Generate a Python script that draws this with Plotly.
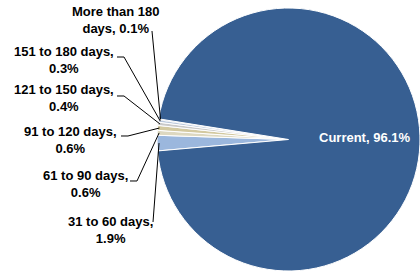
import math
import plotly.graph_objects as go

# ---- data ----
categories = ["31 to 60 days", "61 to 90 days", "91 to 120 days",
              "121 to 150 days", "151 to 180 days", "More than 180 days", "Current"]
shares = [1.9, 0.6, 0.6, 0.4, 0.3, 0.1, 96.1]
label_text = ["31 to 60 days,<br>1.9%", "61 to 90 days,<br>0.6%", "91 to 120 days,<br>0.6%",
              "121 to 150 days,<br>0.4%", "151 to 180 days,<br>0.3%", "More than 180<br>days, 0.1%",
              "Current, 96.1%"]
colors = ["#9BB7DD", "#DDD8C0", "#D3C9A0", "#C9C9C9", "#BAC8DC", "#2B5183", "#375F92"]

# ---- layout geometry (pixels) ----
W, H = 420, 274
CX, CY, R = 289, 139.5, 132
ROT = 265

# label centres (px) and leader-line start/elbow points (px)
label_pos = [(110, 230), (85, 184), (70, 140), (64, 98), (64, 60), (115, 20), (364, 137)]
leader = [[(153, 222)], [(130, 181), (137, 181)], [(121, 136), (128, 136)],
          [(117, 96), (124, 96)], [(117, 57), (124, 57)], [(152, 31)], None]

def px(x):
    return x / W

def py(y):
    return 1 - y / H

fig = go.Figure(go.Pie(
    labels=categories, values=shares, sort=False, direction="clockwise",
    rotation=ROT, marker=dict(colors=colors, line=dict(color="white", width=1)),
    textinfo="none", hoverinfo="label+percent", showlegend=False,
    domain=dict(x=[(CX - R) / W, 1.0], y=[(H - CY - R) / H, (H - CY + R) / H]),
))

total = sum(shares)
cum = 0.0
shapes = []
annotations = []
for i, v in enumerate(shares):
    mid = ROT + 360.0 * (cum + v / 2) / total
    cum += v
    a = math.radians(mid)
    ex = CX + R * 0.985 * math.sin(a)
    ey = CY - R * 0.985 * math.cos(a)
    lx, ly = label_pos[i]
    is_current = categories[i] == "Current"
    annotations.append(dict(
        x=px(lx), y=py(ly), xref="paper", yref="paper", text=label_text[i],
        showarrow=False, xanchor="center", yanchor="middle", align="center",
        font=dict(family="Arial", size=13, weight="bold",
                  color="white" if is_current else "black"),
    ))
    if leader[i]:
        pts = leader[i] + [(ex, ey)]
        path = "M " + " L ".join(f"{px(x):.5f},{py(y):.5f}" for x, y in pts)
        shapes.append(dict(type="path", path=path, xref="paper", yref="paper",
                           line=dict(color="black", width=1)))

fig.update_layout(
    width=W, height=H, margin=dict(l=0, r=0, t=0, b=0),
    paper_bgcolor="white", plot_bgcolor="white",
    shapes=shapes, annotations=annotations,
)
fig.write_html("out.html", config={"displayModeBar": False},
               post_script="document.body.style.margin='0';")
